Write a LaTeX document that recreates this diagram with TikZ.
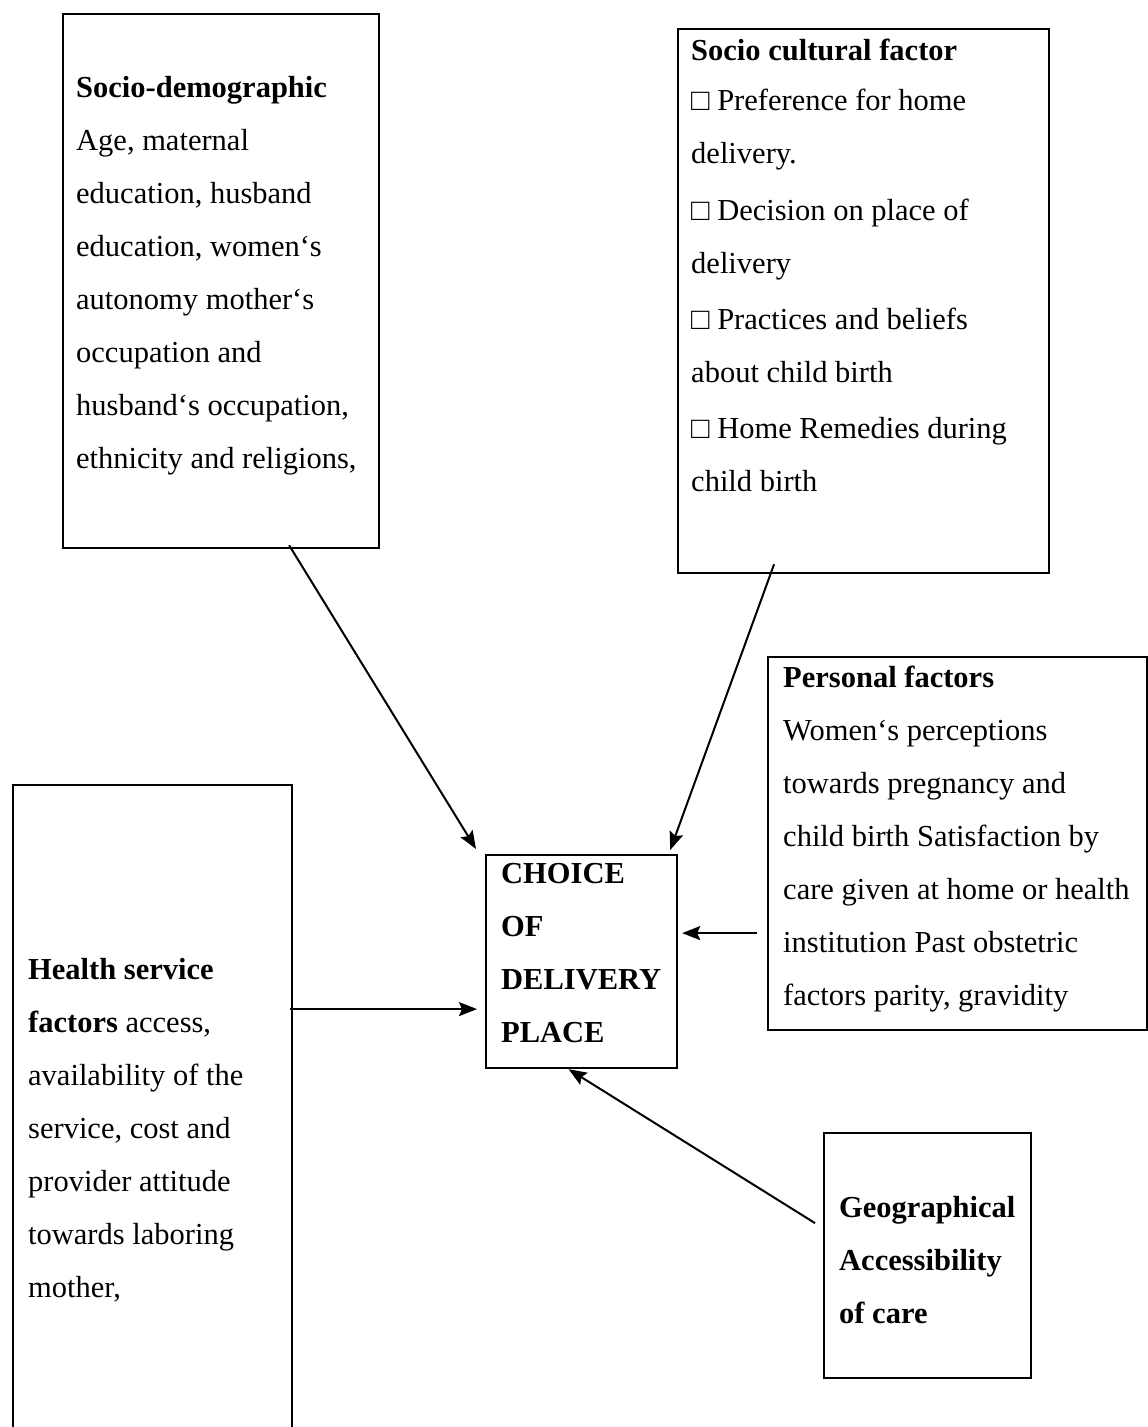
\documentclass[tikz,border=0pt]{standalone}
\usepackage{fontspec}
\setmainfont{Liberation Serif}
\usetikzlibrary{positioning,calc,arrows.meta}
\definecolor{ink}{HTML}{000000}
\tikzset{
  % --- nodes
  frame/.style = {draw=ink, line width=2.2pt, inner sep=0pt, anchor=north west},
  body/.style  = {anchor=north west, align=left, inner sep=0pt, text=ink,
                  font=\fontsize{30.5}{53}\selectfont},
  % --- edges
  e/.style     = {-{Stealth[length=18pt,width=14pt,inset=3pt]}, line width=2pt, draw=ink},
}
\begin{document}
\begin{tikzpicture}[x=1pt,y=-1pt]
  \clip (0,0) rectangle (1148,1427);

  % factor boxes
  \node[frame, minimum width=316pt, minimum height=534pt] (sdemo) at (62,13) {};
  \node[body] (sdemotxt) at ($(sdemo.north west)+(14,63)$)
    {\textbf{Socio-demographic}\\
     Age, maternal\\
     education, husband\\
     education, women‘s\\
     autonomy mother‘s\\
     occupation and\\
     husband‘s occupation,\\
     ethnicity and religions,};

  \node[frame, minimum width=371pt, minimum height=544pt] (scult) at (677,28) {};
  \node[body] (sculttxt) at ($(scult.north west)+(14,11)$)
    {\textbf{Socio cultural factor}\\[-3pt]
     □ Preference for home\\
     delivery.\\[3.5pt]
     □ Decision on place of\\
     delivery\\[3pt]
     □ Practices and beliefs\\
     about child birth\\[3.5pt]
     □ Home Remedies during\\
     child birth};

  \node[frame, minimum width=379pt, minimum height=373pt] (pers) at (767,656) {};
  \node[body] (perstxt) at ($(pers.north west)+(16,10)$)
    {\textbf{Personal factors}\\
     Women‘s perceptions\\
     towards pregnancy and\\
     child birth Satisfaction by\\
     care given at home or health\\
     institution Past obstetric\\
     factors parity, gravidity};

  \node[frame, minimum width=279pt, minimum height=660pt] (hserv) at (12,784) {};
  \node[body] (hservtxt) at ($(hserv.north west)+(16,174)$)
    {\textbf{Health service}\\
     \textbf{factors} access,\\
     availability of the\\
     service, cost and\\
     provider attitude\\
     towards laboring\\
     mother,};

  % outcome
  \node[frame, minimum width=191pt, minimum height=213pt] (choice) at (485,854) {};
  \node[body, font=\fontsize{30.5}{53}\selectfont\bfseries] (choicetxt) at ($(choice.north west)+(16,9)$)
    {CHOICE\\ OF\\ DELIVERY\\ PLACE};

  \node[frame, minimum width=207pt, minimum height=245pt] (geo) at (823,1132) {};
  \node[body, font=\fontsize{30.5}{53}\selectfont\bfseries] (geotxt) at ($(geo.north west)+(16,64)$)
    {Geographical\\ Accessibility\\ of care};

  % arrows
  \draw[e] ($(sdemo.south)+(68,-4)$) -- ($(choice.north west)+(-9,-5)$);
  \draw[e] ($(scult.south)+(-89.5,-10)$) -- ($(choice.north east)+(-8,-4)$);
  \draw[e] ($(pers.west)+(-10,89.5)$) -- ($(choice.east)+(4,-28.5)$);
  \draw[e] ($(hserv.east)+(-3,-106)$) -- ($(choice.west)+(-8,47.5)$);
  \draw[e] ($(geo.west)+(-8,-32.5)$) -- ($(choice.south)+(-13,0)$);
\end{tikzpicture}
\end{document}
